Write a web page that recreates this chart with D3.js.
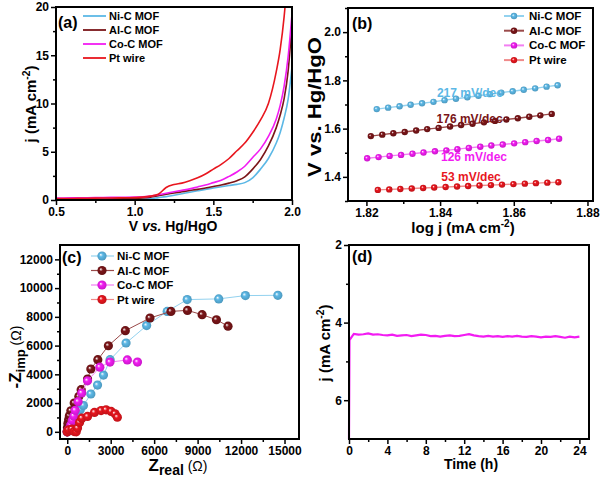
<!DOCTYPE html>
<html><head><meta charset="utf-8">
<script src="https://cdn.jsdelivr.net/npm/d3@7"></script>
<style>body{margin:0;background:#fff}svg{display:block}</style>
</head><body>
<script>
// ---------- DATA ----------
const seriesNames = ["Ni-C MOF", "Al-C MOF", "Co-C MOF", "Pt wire"];
const seriesColors = ["#5cb8e6", "#7a1518", "#f21cf2", "#e8161e"];
const lineColorsB = ["#93d2ef", "#9a4a4a", "#f27ff2", "#f08a8a"];

// (a) LSV
const lsvV = [0.5,0.6,0.7,0.8,0.9,1.0,1.05,1.1,1.15,1.2,1.25,1.3,1.35,1.4,1.45,1.5,1.55,1.6,1.65,1.7,1.75,1.8,1.85,1.9,1.925,1.95,1.975,2.0];
const lsvNi = [0.05,0.05,0.05,0.05,0.05,0.06,0.08,0.15,0.25,0.35,0.5,0.65,0.8,0.95,1.1,1.25,1.38,1.5,1.62,1.8,2.3,3.2,4.3,5.9,7.0,8.5,10.4,13.8];
const lsvAl = [0.1,0.1,0.1,0.1,0.12,0.15,0.2,0.3,0.45,0.6,0.72,0.85,0.98,1.1,1.25,1.4,1.55,1.75,2.0,2.4,3.2,4.2,5.6,7.5,8.8,10.5,13.3,18.3];
const lsvCo = [0.2,0.22,0.24,0.26,0.28,0.3,0.32,0.4,0.55,0.7,0.85,1.0,1.15,1.35,1.55,1.8,2.05,2.45,2.9,3.5,4.4,5.3,6.6,8.4,9.8,11.8,14.8,19.3];
const lsvPt = [0.15,0.16,0.18,0.2,0.22,0.25,0.3,0.4,0.6,1.3,1.6,1.75,2.0,2.3,2.7,3.2,3.7,4.3,5.1,5.9,7.0,8.3,10.0,13.3,15.6,19.0,24.0,30.0];

// (b) Tafel
const tafNiX = [1.8228,1.8259,1.8290,1.8320,1.8351,1.8382,1.8412,1.8443,1.8474,1.8504,1.8535,1.8566,1.8597,1.8627,1.8658,1.8689,1.8719];
const tafNiY = [1.681,1.687,1.693,1.699,1.705,1.711,1.718,1.724,1.730,1.736,1.743,1.749,1.755,1.761,1.767,1.774,1.780];
const tafAlX = [1.8212,1.8243,1.8273,1.8304,1.8335,1.8365,1.8396,1.8427,1.8457,1.8488,1.8519,1.8549,1.8580,1.8611,1.8642,1.8672,1.8703];
const tafAlY = [1.569,1.575,1.581,1.586,1.592,1.598,1.603,1.609,1.615,1.620,1.626,1.632,1.638,1.643,1.649,1.655,1.661];
const tafCoX = [1.8202,1.8233,1.8263,1.8294,1.8325,1.8355,1.8386,1.8417,1.8447,1.8478,1.8509,1.8539,1.8570,1.8601,1.8631,1.8662,1.8693,1.8723];
const tafCoY = [1.477,1.482,1.487,1.491,1.496,1.501,1.506,1.510,1.515,1.520,1.525,1.530,1.534,1.539,1.544,1.549,1.553,1.558];
const tafPtX = [1.8231,1.8262,1.8292,1.8323,1.8354,1.8384,1.8415,1.8446,1.8476,1.8507,1.8538,1.8568,1.8599,1.8630,1.8660,1.8691,1.8721];
const tafPtY = [1.346,1.348,1.350,1.352,1.354,1.356,1.358,1.360,1.362,1.364,1.366,1.368,1.370,1.372,1.374,1.376,1.378];
const tafelLabels = ["217 mV/dec", "176 mV/dec", "126 mV/dec", "53 mV/dec"];
const tafelLabelPos = [[1.8481, 1.731], [1.8480, 1.623], [1.8492, 1.466], [1.8484, 1.383]];

// (c) Nyquist
const nyNiX = [0,50,100,200,300,450,620,900,1120,1630,2090,2500,2960,4060,5480,6900,8280,10460,12300,14540];
const nyNiY = [0,150,300,450,650,850,1070,1530,1830,2630,3250,3950,5020,6180,7390,8380,9200,9250,9480,9500];
const nyAlX = [0,20,50,100,150,250,480,800,960,1400,1630,2110,2840,4010,5710,7160,8300,9310,10300,11100];
const nyAlY = [0,300,600,850,1110,1460,2000,2460,2930,3670,4370,5020,5990,7040,7920,8380,8450,8150,7800,7350];
const nyCoX = [0,60,150,250,350,450,550,750,1000,1400,2250,2950,4150,4850];
const nyCoY = [0,100,250,500,800,1100,1500,2100,2700,3550,4500,4850,5000,4850];
const nyPtX = [0,90,320,480,620,710,850,1010,1400,1880,2340,2680,3030,3300,3460];
const nyPtY = [0,140,190,20,0,260,650,950,1070,1350,1480,1530,1420,1250,1020];

// (d) Stability
const stabT = [0,0.05,0.5,1,1.5,2,2.5,3,3.5,4,4.5,5,5.5,6,6.5,7,7.5,8,8.5,9,9.5,10,10.5,11,11.5,12,12.5,13,13.5,14,14.5,15,15.5,16,16.5,17,17.5,18,18.5,19,19.5,20,20.5,21,21.5,22,22.5,23,23.5,24];
const stabJ = [7.0,4.45,4.29,4.31,4.30,4.28,4.31,4.30,4.32,4.33,4.31,4.34,4.33,4.32,4.35,4.33,4.31,4.32,4.35,4.34,4.36,4.34,4.33,4.35,4.34,4.32,4.30,4.33,4.35,4.36,4.34,4.36,4.35,4.37,4.35,4.36,4.34,4.36,4.37,4.35,4.36,4.38,4.36,4.37,4.35,4.37,4.39,4.36,4.38,4.36];

// ticks
const aXTicks = [0.5,1.0,1.5,2.0], aXMinor = [0.75,1.25,1.75];
const aYTicks = [0,5,10,15,20], aYMinor = [2.5,7.5,12.5,17.5];
const bXTicks = [1.82,1.84,1.86,1.88], bXMinor = [1.83,1.85,1.87];
const bYTicks = [1.4,1.6,1.8,2.0], bYMinor = [1.3,1.5,1.7,1.9,2.1];
const cXTicks = [0,3000,6000,9000,12000,15000], cXMinor = [1500,4500,7500,10500,13500];
const cYTicks = [0,2000,4000,6000,8000,10000,12000], cYMinor = [1000,3000,5000,7000,9000,11000];
const dXTicks = [0,4,8,12,16,20,24], dXMinor = [2,6,10,14,18,22];
const dYTicks = [2,4,6], dYMinor = [3,5];

// ---------- DRAW ----------
const FONT = '"Liberation Sans", Arial, Helvetica, sans-serif';
const svg = d3.select("body").append("svg").attr("width",600).attr("height",479)
  .style("font-family", FONT).style("font-weight","bold");
const defs = svg.append("defs");

seriesColors.forEach((c,i)=>{
  const g = defs.append("radialGradient").attr("id","sph"+i).attr("cx","50%").attr("cy","50%").attr("r","55%").attr("fx","35%").attr("fy","35%");
  g.append("stop").attr("offset","0%").attr("stop-color","#ffffff");
  g.append("stop").attr("offset","35%").attr("stop-color",c);
  g.append("stop").attr("offset","100%").attr("stop-color",d3.color(c).darker(0.6));
});

function frame(box, x, y, xt, xm, yt, ym, xf, yf){
  const g = svg.append("g");
  const gx = g.append("g").attr("transform",`translate(0,${box.b})`)
    .call(d3.axisBottom(x).tickValues(xt).tickSize(5).tickPadding(2).tickFormat(xf));
  const gxm = g.append("g").attr("transform",`translate(0,${box.b})`)
    .call(d3.axisBottom(x).tickValues(xm).tickSize(3).tickFormat(""));
  const gy = g.append("g").attr("transform",`translate(${box.l},0)`)
    .call(d3.axisLeft(y).tickValues(yt).tickSize(5).tickPadding(2).tickFormat(yf));
  const gym = g.append("g").attr("transform",`translate(${box.l},0)`)
    .call(d3.axisLeft(y).tickValues(ym).tickSize(3).tickFormat(""));
  [gx,gxm,gy,gym].forEach(a=>{
    a.select(".domain").remove();
    a.selectAll("line").attr("stroke","#000").attr("stroke-width",1.5);
    a.selectAll("text").attr("fill","#000").style("font-family",FONT).style("font-weight","bold").style("font-size","12px");
  });
  g.append("rect").attr("x",box.l).attr("y",box.t).attr("width",box.r-box.l).attr("height",box.b-box.t)
    .attr("fill","none").attr("stroke","#000").attr("stroke-width",2);
  return g;
}
function clip(id, box){
  defs.append("clipPath").attr("id",id).append("rect").attr("x",box.l).attr("y",box.t).attr("width",box.r-box.l).attr("height",box.b-box.t);
}
function panelLabel(t,x,y){
  svg.append("text").attr("x",x).attr("y",y).style("font-size","16px").text(t);
}
function jLabel(sel, fs){
  sel.append("tspan").text("j (mA cm");
  sel.append("tspan").attr("dy",-6).style("font-size",(fs*0.68)+"px").text("-2");
  sel.append("tspan").attr("dy",6).text(")");
}

// ===== (a) =====
const boxA = {l:56,r:292,t:7,b:200};
const xA = d3.scaleLinear().domain([0.5,2.0]).range([boxA.l,boxA.r]);
const yA = d3.scaleLinear().domain([0,20]).range([boxA.b,boxA.t]);
clip("clipA", boxA);
const lsvSeries = [lsvNi, lsvAl, lsvCo, lsvPt];
const gA = svg.append("g").attr("clip-path","url(#clipA)");
lsvSeries.forEach((s,i)=>{
  gA.append("path").datum(lsvV.map((v,k)=>[v,s[k]]))
    .attr("fill","none").attr("stroke",seriesColors[i]).attr("stroke-width",1.6)
    .attr("d",d3.line().x(d=>xA(d[0])).y(d=>yA(d[1])).curve(d3.curveMonotoneX));
});
frame(boxA,xA,yA,aXTicks,aXMinor,aYTicks,aYMinor,d3.format(".1f"),d3.format("d"));
panelLabel("(a)",58,28);
seriesNames.forEach((n,i)=>{
  const yy = 16 + i*14;
  svg.append("line").attr("x1",83).attr("x2",106).attr("y1",yy).attr("y2",yy).attr("stroke",seriesColors[i]).attr("stroke-width",1.8);
  svg.append("text").attr("x",109).attr("y",yy+4).style("font-size","11px").text(n);
});
svg.append("text").attr("x",173).attr("y",231).attr("text-anchor","middle").style("font-size","14px")
  .call(t=>{t.append("tspan").text("V "); t.append("tspan").style("font-style","italic").text("vs."); t.append("tspan").text(" Hg/HgO");});
svg.append("text").attr("transform","translate(36,104) rotate(-90)").attr("text-anchor","middle").style("font-size","15px")
  .call(t=>jLabel(t,15));

// ===== (b) =====
const boxB = {l:348,r:593,t:8,b:201};
const xB = d3.scaleLinear().domain([1.815,1.8815]).range([boxB.l,boxB.r]);
const yB = d3.scaleLinear().domain([1.3,2.1]).range([boxB.b,boxB.t]);
const tafX = [tafNiX,tafAlX,tafCoX,tafPtX], tafY=[tafNiY,tafAlY,tafCoY,tafPtY];
tafX.forEach((xs,i)=>{
  const pts = xs.map((v,k)=>[v,tafY[i][k]]);
  svg.append("path").datum(pts).attr("fill","none").attr("stroke",lineColorsB[i]).attr("stroke-width",1.4)
    .attr("d",d3.line().x(d=>xB(d[0])).y(d=>yB(d[1])));
  svg.append("g").selectAll("circle").data(pts).join("circle")
    .attr("cx",d=>xB(d[0])).attr("cy",d=>yB(d[1])).attr("r",3.2).attr("fill",`url(#sph${i})`);
});
tafelLabels.forEach((t,i)=>{
  svg.append("text").attr("x",xB(tafelLabelPos[i][0])).attr("y",yB(tafelLabelPos[i][1])).attr("text-anchor","middle")
    .attr("fill",seriesColors[i]).style("font-size","12px").text(t);
});
frame(boxB,xB,yB,bXTicks,bXMinor,bYTicks,bYMinor,d3.format(".2f"),d3.format(".1f"));
panelLabel("(b)",352,29);
seriesNames.forEach((n,i)=>{
  const yy = 16 + i*14.7;
  svg.append("line").attr("x1",504).attr("x2",524).attr("y1",yy).attr("y2",yy).attr("stroke",lineColorsB[i]).attr("stroke-width",2);
  svg.append("circle").attr("cx",514).attr("cy",yy).attr("r",3.2).attr("fill",`url(#sph${i})`);
  svg.append("text").attr("x",529).attr("y",yy+4).style("font-size","11.5px").text(n);
});
svg.append("text").attr("x",463).attr("y",233).attr("text-anchor","middle").style("font-size","15px")
  .call(t=>{t.append("tspan").text("log j (mA cm"); t.append("tspan").attr("dy",-6).style("font-size","10px").text("-2"); t.append("tspan").attr("dy",6).text(")");});
svg.append("text").attr("transform","translate(321,107) rotate(-90)").attr("text-anchor","middle").style("font-size","18px")
  .attr("textLength",140).attr("lengthAdjust","spacingAndGlyphs").text("V vs. Hg/HgO");

// ===== (c) =====
const boxC = {l:60,r:299,t:245,b:439};
const xC = d3.scaleLinear().domain([-500,16000]).range([boxC.l,boxC.r]);
const yC = d3.scaleLinear().domain([-500,13000]).range([boxC.b,boxC.t]);
const nyX = [nyNiX,nyAlX,nyCoX,nyPtX], nyY=[nyNiY,nyAlY,nyCoY,nyPtY];
[0,1,2,3].forEach(i=>{
  const pts = nyX[i].map((v,k)=>[v,nyY[i][k]]);
  svg.append("path").datum(pts).attr("fill","none").attr("stroke",lineColorsB[i]).attr("stroke-width",1)
    .attr("d",d3.line().x(d=>xC(d[0])).y(d=>yC(d[1])));
  svg.append("g").selectAll("circle").data(pts).join("circle")
    .attr("cx",d=>xC(d[0])).attr("cy",d=>yC(d[1])).attr("r",4.6).attr("fill",`url(#sph${i})`);
});
frame(boxC,xC,yC,cXTicks,cXMinor,cYTicks,cYMinor,d3.format("d"),d3.format("d"));
panelLabel("(c)",62,263);
seriesNames.forEach((n,i)=>{
  const yy = 256 + i*14.5;
  svg.append("line").attr("x1",91).attr("x2",114).attr("y1",yy).attr("y2",yy).attr("stroke",lineColorsB[i]).attr("stroke-width",1.2);
  svg.append("circle").attr("cx",102).attr("cy",yy).attr("r",4.6).attr("fill",`url(#sph${i})`);
  svg.append("text").attr("x",117).attr("y",yy+4).style("font-size","11.5px").text(n);
});
svg.append("text").attr("x",178).attr("y",471).attr("text-anchor","middle").style("font-size","17px")
  .call(t=>{t.append("tspan").text("Z"); t.append("tspan").attr("dy",4).style("font-size","14px").text("real");
           t.append("tspan").attr("dy",-4).style("font-size","14px").style("font-weight","normal").text(" (Ω)");});
svg.append("text").attr("transform","translate(21,357) rotate(-90)").attr("text-anchor","middle").style("font-size","17px")
  .call(t=>{t.append("tspan").text("-Z"); t.append("tspan").attr("dy",4).style("font-size","13px").text("imp");
           t.append("tspan").attr("dy",-4).style("font-size","14px").style("font-weight","normal").text(" (Ω)");});

// ===== (d) =====
const boxD = {l:349,r:589,t:245,b:439};
const xD = d3.scaleLinear().domain([0,25]).range([boxD.l,boxD.r]);
const yD = d3.scaleLinear().domain([2,7]).range([boxD.t,boxD.b]);
svg.append("path").datum(stabT.map((t,k)=>[t,stabJ[k]])).attr("fill","none").attr("stroke","#f21cf2").attr("stroke-width",2.2)
  .attr("d",d3.line().x(d=>xD(d[0])).y(d=>yD(d[1])));
frame(boxD,xD,yD,dXTicks,dXMinor,dYTicks,dYMinor,d3.format("d"),d3.format("d"));
panelLabel("(d)",352,262);
svg.append("text").attr("x",471).attr("y",469).attr("text-anchor","middle").style("font-size","14px").text("Time (h)");
svg.append("text").attr("transform","translate(330,343) rotate(-90)").attr("text-anchor","middle").style("font-size","15px")
  .call(t=>jLabel(t,15));
</script>
</body></html>
